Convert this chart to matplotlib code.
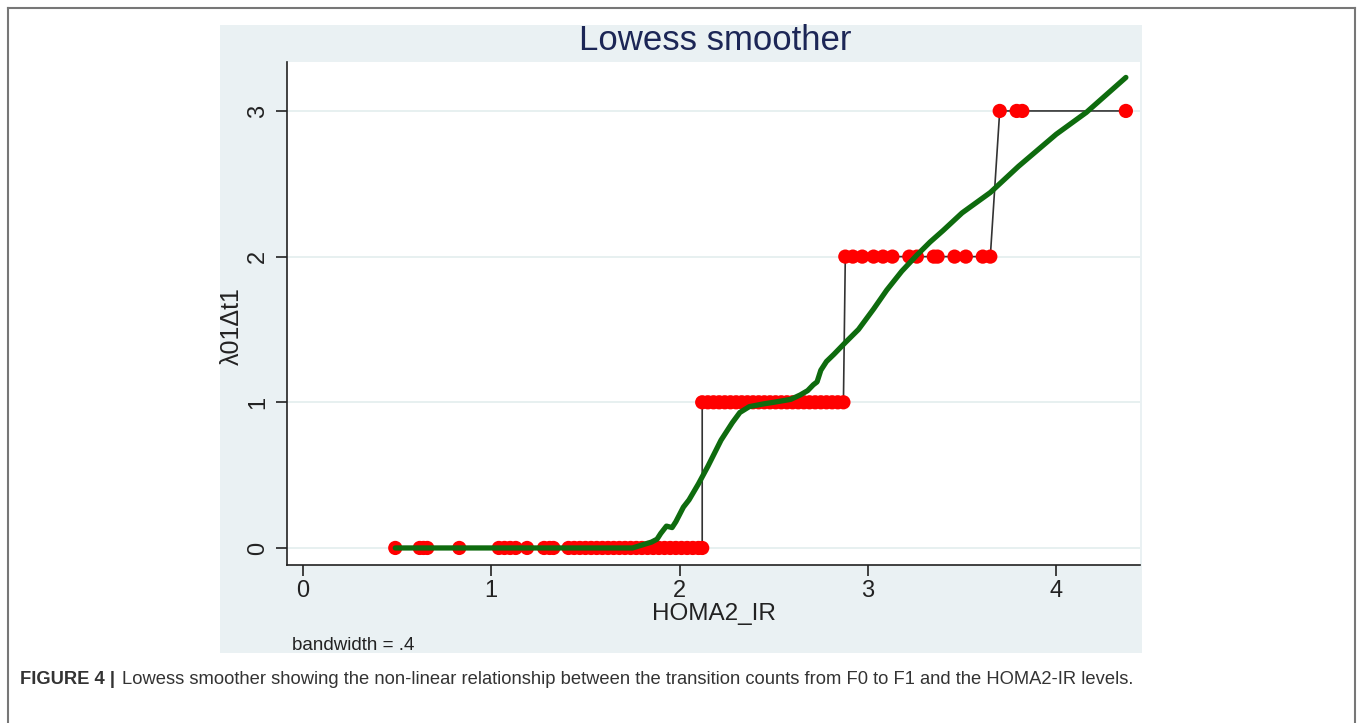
import matplotlib
matplotlib.use("Agg")
import matplotlib.pyplot as plt
from matplotlib.patches import Rectangle
from matplotlib.lines import Line2D
import numpy as np

plt.rcParams['font.family'] = ['Liberation Sans', 'DejaVu Sans']

# ---- data ----
x_level0 = [0.49, 0.62, 0.64, 0.66, 0.83, 1.04, 1.07, 1.10, 1.13, 1.19, 1.28, 1.31, 1.33,
            1.41, 1.44, 1.47, 1.50, 1.53, 1.56, 1.59, 1.62, 1.65, 1.68, 1.71, 1.74, 1.77,
            1.80, 1.83, 1.86, 1.89, 1.92, 1.95, 1.98, 2.01, 2.04, 2.07, 2.10, 2.12]
x_level1 = [2.12, 2.15, 2.18, 2.21, 2.24, 2.27, 2.30, 2.33, 2.36, 2.39, 2.42, 2.45, 2.48,
            2.51, 2.54, 2.57, 2.60, 2.63, 2.66, 2.69, 2.72, 2.75, 2.78, 2.81, 2.84, 2.87]
x_level2 = [2.88, 2.92, 2.97, 3.03, 3.08, 3.13, 3.22, 3.26, 3.35, 3.37, 3.46, 3.52, 3.61, 3.65]
x_level3 = [3.70, 3.79, 3.82, 4.37]

lowess_x = [0.49, 1.00, 1.50, 1.75, 1.80, 1.85, 1.88, 1.90, 1.93, 1.96, 1.98, 2.02, 2.05,
            2.10, 2.15, 2.22, 2.28, 2.32, 2.37, 2.45, 2.50, 2.59, 2.64, 2.68, 2.71, 2.73,
            2.75, 2.78, 2.82, 2.88, 2.95, 3.03, 3.10, 3.18, 3.26, 3.33, 3.40, 3.50, 3.65,
            3.80, 3.90, 4.00, 4.16, 4.37]
lowess_y = [0.00, 0.00, 0.00, 0.00, 0.02, 0.04, 0.06, 0.10, 0.15, 0.14, 0.18, 0.28, 0.33,
            0.44, 0.56, 0.74, 0.86, 0.93, 0.97, 0.99, 1.00, 1.02, 1.05, 1.08, 1.12, 1.14,
            1.22, 1.28, 1.33, 1.41, 1.50, 1.64, 1.77, 1.90, 2.01, 2.10, 2.18, 2.30, 2.44,
            2.62, 2.73, 2.84, 2.99, 3.23]

x_ticks = [0, 1, 2, 3, 4]
y_ticks = [0, 1, 2, 3]

xs = x_level0 + x_level1 + x_level2 + x_level3
ys = [0] * len(x_level0) + [1] * len(x_level1) + [2] * len(x_level2) + [3] * len(x_level3)

# ---- figure ----
fig = plt.figure(figsize=(13.57, 7.23), dpi=100)
fig.patch.set_facecolor('white')

# Stata graph region
fig.patches.append(Rectangle((220 / 1357, 1 - 653 / 723), (1142 - 220) / 1357, (653 - 25) / 723,
                             transform=fig.transFigure, facecolor='#EAF1F3', edgecolor='none',
                             zorder=-5))
# outer frame (top, left, right)
for xd, yd in [([8 / 1357, 8 / 1357], [0, 1 - 8 / 723]),
               ([8 / 1357, 1355 / 1357], [1 - 8 / 723, 1 - 8 / 723]),
               ([1355 / 1357, 1355 / 1357], [1 - 8 / 723, 0])]:
    fig.lines.append(Line2D(xd, yd, transform=fig.transFigure, color='#777777', lw=1.5,
                            zorder=-4))

ax = fig.add_axes([287 / 1357, 1 - 565 / 723, (1140 - 287) / 1357, (565 - 62) / 723])
ax.set_zorder(2)
ax.set_facecolor('white')
ax.set_xlim(-0.085, 4.445)
ax.set_ylim(-0.117, 3.336)

for yv in y_ticks:
    ax.axhline(yv, color='#E3EDEE', lw=1.2, zorder=1)

ax.plot(xs, ys, color='#333333', lw=1.2, zorder=2)
ax.scatter(xs, ys, s=105, color='#FF0000', edgecolors='none', zorder=3)
ax.plot(lowess_x, lowess_y, color='#0E6B0E', lw=3.8, solid_capstyle='round', zorder=4)

for s in ['top', 'right']:
    ax.spines[s].set_visible(False)
for s in ['left', 'bottom']:
    ax.spines[s].set_color('#222222')
    ax.spines[s].set_linewidth(1.2)

ax.set_xticks(x_ticks)
ax.set_yticks(y_ticks)
ax.set_xticklabels([str(t) for t in x_ticks], fontsize=17, color='#222222')
ax.set_yticklabels([str(t) for t in y_ticks], fontsize=17, color='#222222', rotation=90,
                   va='center')
ax.tick_params(axis='x', direction='out', length=8, width=1.2, color='#222222', pad=3)
ax.tick_params(axis='y', direction='out', length=8, width=1.2, color='#222222', pad=5)

fig.text(715 / 1357, 1 - 41 / 723, 'Lowess smoother', ha='center', va='center', fontsize=25,
         color='#1C2656')
fig.text(714 / 1357, 1 - 614 / 723, 'HOMA2_IR', ha='center', va='center', fontsize=17.5,
         color='#222222')
fig.text(232 / 1357, 1 - 326 / 723, 'λ01Δt1', ha='center', va='center', fontsize=18,
         rotation=90, color='#222222')
fig.text(292 / 1357, 1 - 645 / 723, 'bandwidth = .4', ha='left', va='center', fontsize=13.5,
         color='#222222')

fig.text(20 / 1357, 1 - 680 / 723, 'FIGURE 4 |', ha='left', va='center', fontsize=13.2,
         fontweight='bold', color='#333333')
fig.text(122 / 1357, 1 - 680 / 723,
         'Lowess smoother showing the non-linear relationship between the transition counts '
         'from F0 to F1 and the HOMA2-IR levels.',
         ha='left', va='center', fontsize=13.2, color='#333333')

fig.savefig('out.png', dpi=100, facecolor='white')
